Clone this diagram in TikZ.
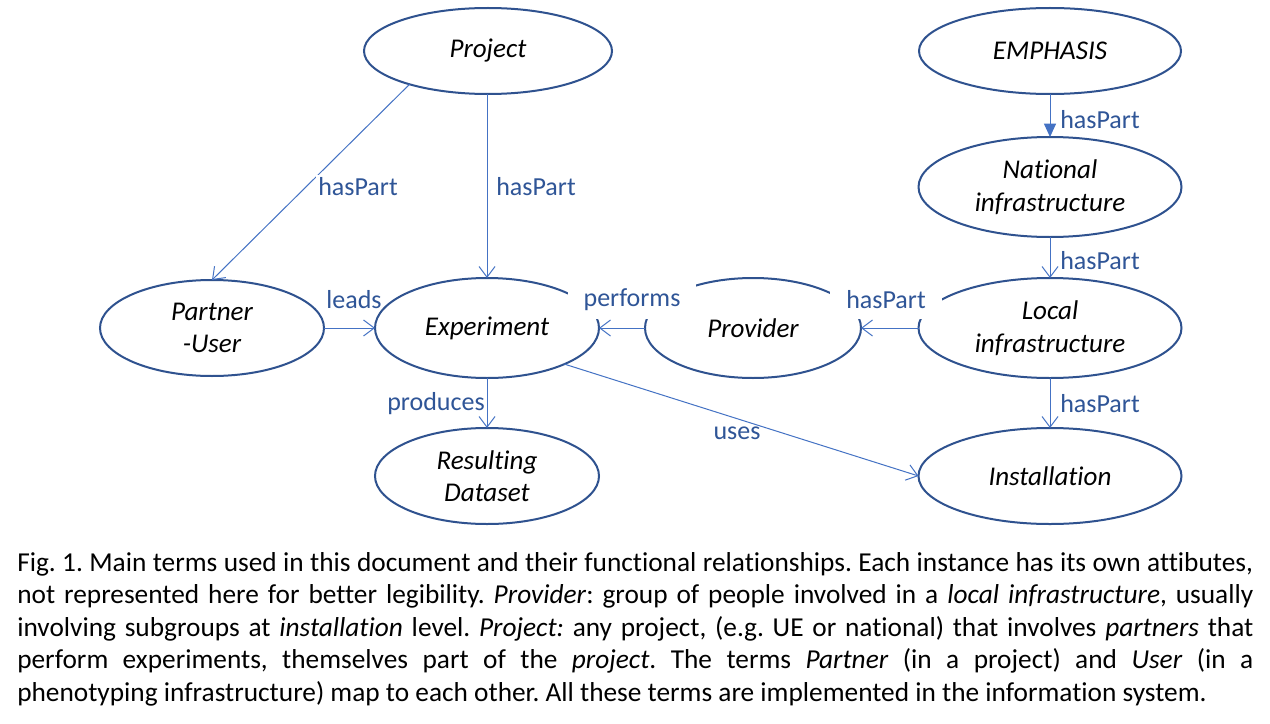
\documentclass[tikz,border=0pt]{standalone}
\usepackage{fontspec}
\setmainfont{Carlito}[Ligatures=NoCommon]
\usetikzlibrary{shapes.geometric,arrows.meta}
\definecolor{ellcol}{HTML}{2F528F}
\definecolor{arrcol}{HTML}{4472C4}
\definecolor{labcol}{HTML}{2F5597}
\begin{document}
\begin{tikzpicture}[x=0.75pt,y=-0.75pt,
  every node/.style={font=\fontsize{19.5}{24.4}\selectfont},
  ell/.style={ellipse,draw=ellcol,line width=1.5pt,fill=white,inner sep=0pt,outer sep=0pt,align=center,font=\fontsize{20.3}{24.4}\selectfont\itshape},
  rel/.style={text=labcol,fill=white,inner sep=2pt},
  conn/.style={draw=arrcol,line width=0.75pt,-{Straight Barb[length=8pt,width=12pt]}},
  connf/.style={draw=arrcol,line width=0.75pt,-{Triangle[length=10pt,width=9pt]}}
]
\useasboundingbox (0,0) rectangle (1270,724);
\fill[white] (0,0) rectangle (1270,724);

\node[ell,minimum width=186pt,minimum height=64.5pt] (proj) at (488,51) {Project};
\node[ell,minimum width=196.5pt,minimum height=64.5pt] (emph) at (1050,51) {EMPHASIS};
\node[ell,minimum width=197.25pt,minimum height=75pt] (nat) at (1050,187) {National\\infrastructure};
\node[ell,minimum width=197.25pt,minimum height=75pt] (loc) at (1050,328) {Local\\infrastructure};
\node[ell,minimum width=197.25pt,minimum height=72pt] (inst) at (1050,476) {Installation};
\node[ell,minimum width=168pt,minimum height=72pt] (part) at (212,328) {Partner\\-User};
\node[ell,minimum width=168pt,minimum height=75pt] (exp) at (487,328) {Experiment};
\node[ell,minimum width=162pt,minimum height=75pt] (prov) at (753,328) {Provider};
\node[ell,minimum width=168pt,minimum height=72pt] (res) at (487,476) {Resulting\\Dataset};

\draw[conn] (proj.203) -- (part.north);
\draw[conn] (proj.south -| exp.north) -- (exp.north);
\draw[connf] (emph.south) -- (nat.north);
\draw[conn] (nat.south) -- (loc.north);
\draw[conn] (loc.south) -- (inst.north);
\draw[conn] (loc.west) -- (prov.east);
\draw[conn] (prov.west) -- (exp.east);
\draw[conn] (part.east) -- (exp.west);
\draw[conn] (exp.south) -- (res.north);
\draw[conn] (exp.335) -- (inst.west);

\node[rel] (l1) at (358,187) {hasPart};
\node[rel] (l2) at (536,187) {hasPart};
\node[rel,fill=none] (l3) at (1100,120) {hasPart};
\node[rel,fill=none] (l4) at (1100,261) {hasPart};
\node[rel,fill=none] (l5) at (1100,404) {hasPart};
\node[rel,minimum width=84pt,minimum height=28.5pt] (l6) at (886,300) {hasPart};
\node[rel,minimum width=96pt,minimum height=28.5pt] (l7) at (632,300) {performs};
\node[rel,fill=none] (l8) at (354,300) {leads};
\node[rel,fill=none] (l9) at (436,404) {produces};
\node[rel,fill=none] (l10) at (737,433) {uses};

\node[anchor=north west,inner sep=0pt,text width=927pt,align=justify,font=\fontsize{20.5}{24.4}\selectfont] (cap) at (17,552) {\frenchspacing\hyphenpenalty=10000\exhyphenpenalty=10000
Fig. 1. Main terms used in this document and their functional relationships. Each instance has its own attibutes,\linebreak
not represented here for better legibility. \textit{Provider}: group of people involved in a \textit{local infrastructure}, usually\linebreak
involving subgroups at \textit{installation} level. \textit{Project:} any project, (e.g. UE or national) that involves \textit{partners} that\linebreak
perform experiments, themselves part of the \textit{project}. The terms \textit{Partner} (in a project) and \textit{User} (in a\linebreak
phenotyping infrastructure) map to each other. All these terms are implemented in the information system.};
\end{tikzpicture}
\end{document}
